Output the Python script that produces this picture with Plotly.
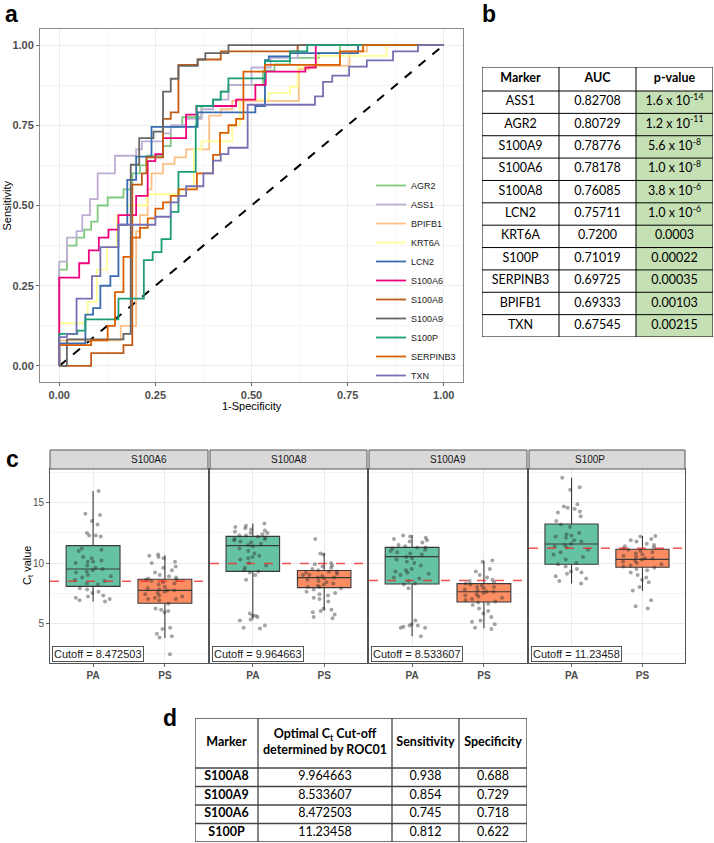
import plotly.graph_objects as go

# ---------------- DATA ----------------
markers = ["AGR2", "ASS1", "BPIFB1", "KRT6A", "LCN2", "S100A6", "S100A8", "S100A9", "S100P", "SERPINB3", "TXN"]
roc_colors = ["#7fc97f", "#beaed4", "#fdc086", "#ffff99", "#386cb0", "#f0027f", "#bf5b17", "#666666", "#1b9e77", "#d95f02", "#7570b3"]

agr2_fpr = [0, 0, 0.02, 0.045, 0.065, 0.083, 0.10, 0.126, 0.167, 0.19, 0.21, 0.227, 0.27, 0.29, 0.32, 0.37, 0.40, 0.42, 0.44, 0.53, 0.56, 0.60, 0.675, 0.73, 1.0]
agr2_tpr = [0, 0.30, 0.375, 0.40, 0.425, 0.45, 0.50, 0.525, 0.55, 0.60, 0.625, 0.655, 0.685, 0.745, 0.775, 0.81, 0.83, 0.855, 0.875, 0.92, 0.94, 0.96, 0.975, 1.0, 1.0]
ass1_fpr = [0, 0, 0.02, 0.045, 0.06, 0.08, 0.10, 0.145, 0.20, 0.215, 0.27, 0.29, 0.33, 0.37, 0.40, 0.44, 0.50, 0.55, 0.62, 1.0]
ass1_tpr = [0, 0.325, 0.40, 0.42, 0.47, 0.52, 0.60, 0.655, 0.675, 0.70, 0.725, 0.75, 0.77, 0.80, 0.83, 0.875, 0.93, 0.96, 1.0, 1.0]
bpifb1_fpr = [0, 0, 0.16, 0.20, 0.21, 0.23, 0.24, 0.27, 0.30, 0.33, 0.39, 0.42, 0.45, 0.623, 0.65, 0.755, 0.80, 1.0]
bpifb1_tpr = [0, 0.08, 0.125, 0.42, 0.47, 0.55, 0.60, 0.63, 0.65, 0.675, 0.78, 0.80, 0.826, 0.925, 0.935, 0.98, 1.0, 1.0]
krt6a_fpr = [0, 0, 0.068, 0.074, 0.098, 0.124, 0.15, 0.176, 0.228, 0.314, 0.35, 0.37, 0.45, 0.47, 0.545, 0.60, 0.62, 0.67, 0.851, 1.0]
krt6a_tpr = [0, 0.133, 0.16, 0.20, 0.30, 0.37, 0.47, 0.50, 0.535, 0.55, 0.674, 0.70, 0.75, 0.83, 0.85, 0.87, 0.93, 0.966, 1.0, 1.0]
lcn2_fpr = [0, 0, 0.068, 0.088, 0.107, 0.133, 0.154, 0.177, 0.20, 0.24, 0.36, 0.51, 0.535, 0.545, 0.60, 0.777, 1.0]
lcn2_tpr = [0, 0.07, 0.16, 0.18, 0.25, 0.28, 0.44, 0.58, 0.652, 0.745, 0.79, 0.81, 0.953, 0.965, 0.975, 1.0, 1.0]
s100a6_fpr = [0, 0, 0.052, 0.077, 0.103, 0.128, 0.154, 0.20, 0.23, 0.25, 0.27, 0.33, 0.357, 0.46, 0.51, 0.537, 0.64, 0.667, 1.0]
s100a6_tpr = [0, 0.275, 0.32, 0.36, 0.40, 0.425, 0.47, 0.53, 0.638, 0.66, 0.71, 0.783, 0.81, 0.83, 0.876, 0.917, 0.93, 1.0, 1.0]
s100a8_fpr = [0, 0.083, 0.167, 0.19, 0.215, 0.227, 0.27, 0.29, 0.31, 0.36, 0.42, 0.62, 1.0]
s100a8_tpr = [0, 0.04, 0.065, 0.565, 0.60, 0.65, 0.77, 0.79, 0.938, 0.955, 0.98, 1.0, 1.0]
s100a9_fpr = [0, 0.02, 0.167, 0.186, 0.208, 0.245, 0.27, 0.29, 0.31, 0.36, 0.38, 0.44, 1.0]
s100a9_tpr = [0, 0.083, 0.10, 0.627, 0.71, 0.73, 0.855, 0.895, 0.935, 0.955, 0.975, 1.0, 1.0]
s100p_fpr = [0, 0, 0.047, 0.068, 0.154, 0.22, 0.243, 0.266, 0.29, 0.31, 0.355, 0.357, 0.40, 0.42, 0.44, 0.535, 0.60, 0.645, 1.0]
s100p_tpr = [0, 0.10, 0.11, 0.145, 0.21, 0.33, 0.355, 0.395, 0.48, 0.605, 0.75, 0.81, 0.83, 0.855, 0.896, 0.95, 0.98, 1.0, 1.0]
serpinb3_fpr = [0, 0, 0.083, 0.126, 0.145, 0.167, 0.19, 0.21, 0.23, 0.25, 0.27, 0.29, 0.31, 0.358, 0.40, 0.418, 0.44, 0.46, 0.479, 0.535, 0.73, 0.79, 1.0]
serpinb3_tpr = [0, 0.065, 0.08, 0.125, 0.23, 0.34, 0.40, 0.43, 0.46, 0.49, 0.51, 0.53, 0.55, 0.60, 0.658, 0.726, 0.75, 0.77, 0.917, 0.938, 0.98, 1.0, 1.0]
txn_fpr = [0, 0, 0.02, 0.045, 0.085, 0.107, 0.154, 0.25, 0.29, 0.31, 0.33, 0.375, 0.40, 0.42, 0.44, 0.49, 0.665, 0.686, 0.71, 0.754, 0.80, 0.868, 0.933, 1.0]
txn_tpr = [0, 0.09, 0.10, 0.21, 0.28, 0.37, 0.44, 0.465, 0.51, 0.53, 0.56, 0.60, 0.64, 0.66, 0.68, 0.814, 0.84, 0.885, 0.905, 0.933, 0.952, 0.98, 1.0, 1.0]

roc_fpr = [agr2_fpr, ass1_fpr, bpifb1_fpr, krt6a_fpr, lcn2_fpr, s100a6_fpr, s100a8_fpr, s100a9_fpr, s100p_fpr, serpinb3_fpr, txn_fpr]
roc_tpr = [agr2_tpr, ass1_tpr, bpifb1_tpr, krt6a_tpr, lcn2_tpr, s100a6_tpr, s100a8_tpr, s100a9_tpr, s100p_tpr, serpinb3_tpr, txn_tpr]

# table b
tb_header = ["<b>Marker</b>", "<b>AUC</b>", "<b>p-value</b>"]
tb_markers = ["ASS1", "AGR2", "S100A9", "S100A6", "S100A8", "LCN2", "KRT6A", "S100P", "SERPINB3", "BPIFB1", "TXN"]
tb_auc = ["0.82708", "0.80729", "0.78776", "0.78178", "0.76085", "0.75711", "0.7200", "0.71019", "0.69725", "0.69333", "0.67545"]
tb_p = ["1.6 x 10<sup>-14</sup>", "1.2 x 10<sup>-11</sup>", "5.6 x 10<sup>-8</sup>", "1.0 x 10<sup>-8</sup>",
        "3.8 x 10<sup>-6</sup>", "1.0 x 10<sup>-6</sup>", "0.0003", "0.00022", "0.00035", "0.00103", "0.00215"]

# panel c
facets = ["S100A6", "S100A8", "S100A9", "S100P"]
cutoffs = [8.472503, 9.964663, 8.533607, 11.23458]
groups = ["PA", "PS"]
box_q1 = [[8.05, 6.65], [9.3, 7.95], [8.25, 6.75], [9.89, 9.64]]
box_med = [[9.5, 7.72], [11.45, 8.78], [10.53, 7.6], [11.58, 10.3]]
box_q3 = [[11.45, 8.65], [12.22, 9.38], [11.3, 8.28], [13.25, 11.14]]
box_lo = [[6.8, 3.75], [5.3, 6.05], [3.9, 4.56], [8.3, 7.67]]
box_hi = [[16.0, 10.65], [13.3, 10.82], [12.33, 10.17], [17.1, 12.25]]

a6_pa = [16.0, 14.1, 14.0, 13.5, 13.2, 12.5, 12.3, 12.3, 12.2, 11.2, 11.1, 11.0, 10.5, 10.4, 10.2, 10.1, 10.1, 10.0, 9.8,
         9.6, 9.5, 9.4, 9.3, 9.2, 9.0, 8.9, 8.8, 8.6, 8.5, 8.3, 8.2, 7.9, 7.8, 7.6, 7.5, 7.3, 7.2, 7.1, 7.0, 6.9, 6.8]
a6_ps = [10.7, 10.6, 10.5, 10.4, 10.1, 10.0, 9.7, 9.6, 9.4, 9.2, 9.0, 8.9, 8.8, 8.7, 8.6, 8.6, 8.5, 8.4, 8.3, 8.2, 8.0,
         7.9, 7.8, 7.7, 7.7, 7.6, 7.5, 7.4, 7.3, 7.2, 7.1, 7.0, 7.0, 6.9, 6.6, 6.2, 6.1, 6.0, 5.9, 4.6, 4.5, 4.1, 3.9, 3.8, 2.4]
a8_pa = [13.3, 13.1, 13.0, 12.9, 12.8, 12.7, 12.6, 12.5, 12.5, 12.4, 12.3, 12.3, 12.2, 12.1, 12.0, 12.0, 11.9, 11.8, 11.7,
         11.6, 11.5, 11.4, 11.2, 11.0, 10.8, 10.6, 10.5, 10.4, 10.3, 10.0, 9.8, 9.6, 9.4, 9.3, 9.2, 9.0, 8.6,
         5.8, 5.6, 5.6, 5.5, 5.3, 5.2, 4.8, 4.6, 4.55]
a8_ps = [12.0, 10.8, 10.7, 10.0, 9.9, 9.8, 9.7, 9.6, 9.5, 9.4, 9.3, 9.3, 9.2, 9.1, 9.0, 9.0, 8.9, 8.8, 8.8, 8.7, 8.6, 8.5,
         8.4, 8.3, 8.2, 8.1, 8.0, 8.0, 7.9, 7.8, 7.6, 7.5, 7.4, 7.3, 7.1, 7.0, 6.8, 6.2, 6.1, 6.0, 5.9, 5.7, 5.5, 5.4]
a9_pa = [12.3, 12.2, 12.1, 12.0, 11.9, 11.8, 11.7, 11.5, 11.4, 11.3, 11.3, 11.2, 11.1, 11.0, 10.9, 10.8, 10.7, 10.5, 10.4,
         10.3, 10.1, 10.0, 9.8, 9.5, 9.4, 9.3, 9.2, 9.1, 9.0, 8.8, 8.7, 8.5, 8.3, 8.2, 7.9, 5.2, 4.9, 4.8, 4.8, 4.7, 4.6, 4.6, 3.9]
a9_ps = [10.2, 10.1, 9.5, 9.3, 9.0, 8.8, 8.6, 8.5, 8.4, 8.3, 8.2, 8.1, 8.0, 8.0, 7.9, 7.8, 7.7, 7.6, 7.6, 7.5, 7.4, 7.3,
         7.2, 7.1, 7.0, 6.9, 6.8, 6.7, 6.6, 6.5, 6.2, 6.0, 5.8, 5.5, 5.2, 5.1, 4.9, 4.6, 4.5]
p_pa = [17.1, 16.3, 16.1, 14.9, 14.7, 14.6, 14.5, 14.3, 14.2, 13.9, 13.5, 13.2, 13.0, 12.5, 12.4, 12.3, 12.2, 12.1, 11.9,
        11.8, 11.6, 11.5, 11.4, 11.3, 11.1, 10.9, 10.7, 10.5, 10.3, 10.0, 9.9, 9.7, 9.5, 9.3, 9.2, 9.1, 8.9, 8.7, 8.5, 8.3]
p_ps = [12.25, 12.2, 12.0, 11.9, 11.8, 11.6, 11.5, 11.4, 11.3, 11.2, 11.1, 11.0, 10.9, 10.8, 10.7, 10.6, 10.5, 10.4, 10.4,
        10.3, 10.2, 10.1, 10.0, 9.9, 9.8, 9.7, 9.6, 9.5, 9.4, 9.2, 9.0, 8.8, 8.6, 8.4, 8.0, 7.7, 6.9, 6.4, 6.2]
points = [[a6_pa, a6_ps], [a8_pa, a8_ps], [a9_pa, a9_ps], [p_pa, p_ps]]

# table d
td_header = ["<b>Marker</b>", "<b>Optimal C<sub>t</sub> Cut-off<br>determined by ROC01</b>", "<b>Sensitivity</b>", "<b>Specificity</b>"]
td_markers = ["S100A8", "S100A9", "S100A6", "S100P"]
td_cut = ["9.964663", "8.533607", "8.472503", "11.23458"]
td_sens = ["0.938", "0.854", "0.745", "0.812"]
td_spec = ["0.688", "0.729", "0.718", "0.622"]

# ---------------- LAYOUT HELPERS ----------------
W, H = 714, 843
def fx(p): return p / W
def fy(p): return 1 - p / H

FONT = "Liberation Sans, Arial, sans-serif"
TFONT = "Lato"

fig = go.Figure()

# ---- panel a: ROC ----
fig.add_trace(go.Scatter(x=[0, 1], y=[0, 1], mode="lines", line=dict(color="black", width=2, dash="dash"),
                         showlegend=False, hoverinfo="skip", xaxis="x", yaxis="y"))
for name, col, xs, ys in zip(markers, roc_colors, roc_fpr, roc_tpr):
    fig.add_trace(go.Scatter(x=xs, y=ys, mode="lines", name=name, line=dict(color=col, width=1.8, shape="hv"),
                             xaxis="x", yaxis="y"))

roc_tick = [0, 0.25, 0.5, 0.75, 1.0]
common_roc = dict(range=[-0.05, 1.05], tickvals=roc_tick, ticktext=["%.2f" % v for v in roc_tick],
                  showgrid=True, gridcolor="#ebebeb", gridwidth=1, zeroline=False,
                  showline=True, mirror=True, linecolor="#8a8a8a", linewidth=1,
                  ticks="outside", ticklen=3, tickcolor="#666",
                  tickfont=dict(family=FONT, size=11, color="#4d4d4d", weight="bold"),
                  minor=dict(tick0=0.125, dtick=0.25, showgrid=True, gridcolor="#f5f5f5", gridwidth=0.7))
fig.update_layout(
    xaxis=dict(domain=[fx(40), fx(463)], anchor="y", **common_roc),
    yaxis=dict(domain=[fy(382), fy(29)], anchor="x", **common_roc),
)

# ---- panel c: facets ----
panel_x = [(50, 208), (210, 367), (369, 527), (529, 685)]
py_top, py_bot = 469, 663
box_fill = ["#66c2a5", "#fc8d62"]
for i in range(4):
    ax = str(i + 2)
    for g in range(2):
        fig.add_trace(go.Box(x=[groups[g]], q1=[box_q1[i][g]], median=[box_med[i][g]], q3=[box_q3[i][g]],
                             lowerfence=[box_lo[i][g]], upperfence=[box_hi[i][g]],
                             fillcolor=box_fill[g], line=dict(color="#3a3a3a", width=1.1),
                             whiskerwidth=0, width=0.75, boxpoints=False, showlegend=False,
                             xaxis="x" + ax, yaxis="y" + ax))
    for g in range(2):
        vals = points[i][g]
        fig.add_trace(go.Box(x=[groups[g]] * len(vals), y=vals, boxpoints="all", jitter=0.85, pointpos=0,
                             fillcolor="rgba(0,0,0,0)", line=dict(color="rgba(0,0,0,0)", width=0),
                             marker=dict(color="rgba(40,40,40,0.42)", size=4), width=0.75,
                             showlegend=False, hoveron="points", xaxis="x" + ax, yaxis="y" + ax))
    x0, x1 = panel_x[i]
    fig.layout["xaxis" + ax] = dict(domain=[fx(x0), fx(x1)], anchor="y" + ax, type="category",
                                    categoryorder="array", categoryarray=groups, range=[-0.6, 1.6],
                                    showgrid=True, gridcolor="#ebebeb", zeroline=False,
                                    showline=True, mirror=True, linecolor="#555", linewidth=1,
                                    ticks="outside", ticklen=3, tickcolor="#666",
                                    tickfont=dict(family=FONT, size=10, color="#4d4d4d", weight="bold"))
    fig.layout["yaxis" + ax] = dict(domain=[fy(py_bot), fy(py_top)], anchor="x" + ax,
                                    range=[1.67, 17.83], tickvals=[5, 10, 15], showticklabels=(i == 0),
                                    ticks="outside" if i == 0 else "", ticklen=3, tickcolor="#666",
                                    showgrid=True, gridcolor="#ebebeb", zeroline=False,
                                    showline=True, mirror=True, linecolor="#555", linewidth=1,
                                    tickfont=dict(family=FONT, size=10, color="#4d4d4d"),
                                    minor=dict(tick0=2.5, dtick=5, showgrid=True, gridcolor="#f5f5f5", gridwidth=0.7))
    fig.add_shape(type="line", xref="x" + ax + " domain", x0=0, x1=1, yref="y" + ax,
                  y0=cutoffs[i], y1=cutoffs[i], line=dict(color="rgba(240,40,40,0.8)", width=1.5, dash="dash"))
    fig.add_shape(type="rect", xref="paper", yref="paper", x0=fx(x0), x1=fx(x1), y0=fy(469), y1=fy(450),
                  fillcolor="#d9d9d9", line=dict(color="#555", width=1))
    fig.add_annotation(xref="paper", yref="paper", x=(fx(x0) + fx(x1)) / 2, y=fy(459.5), text=facets[i],
                       showarrow=False, font=dict(family=FONT, size=10, color="#1a1a1a"))
    fig.add_annotation(xref="x" + ax + " domain", yref="y" + ax + " domain", x=0.012, y=0.005,
                       xanchor="left", yanchor="bottom", text="Cutoff = " + str(cutoffs[i]),
                       showarrow=False, font=dict(family=FONT, size=11, color="#1a1a1a"),
                       bgcolor="white", bordercolor="#555", borderwidth=1, borderpad=1)

# ---- tables drawn on their own axes ----
def draw_table(ax, px_box, col_w, row_h, columns, header, fills, line_col, line_w, fsize):
    xl, xr, yt, yb = px_box
    xe = [0]
    for w in col_w:
        xe.append(xe[-1] + w)
    ye = [0]
    for h in row_h:
        ye.append(ye[-1] + h)
    fig.layout["xaxis" + ax] = dict(domain=[fx(xl), fx(xr)], range=[0, xe[-1]], visible=False,
                                    anchor="y" + ax, fixedrange=True)
    fig.layout["yaxis" + ax] = dict(domain=[fy(yb), fy(yt)], range=[ye[-1], 0], visible=False,
                                    anchor="x" + ax, fixedrange=True)
    for c, fc in enumerate(fills):
        if fc:
            fig.add_shape(type="rect", xref="x" + ax, yref="y" + ax, x0=xe[c], x1=xe[c + 1], y0=ye[1], y1=ye[-1],
                          fillcolor=fc, line=dict(width=0), layer="below")
    for xv in xe:
        fig.add_shape(type="line", xref="x" + ax, yref="y" + ax, x0=xv, x1=xv, y0=0, y1=ye[-1],
                      line=dict(color=line_col, width=line_w))
    for yv in ye:
        fig.add_shape(type="line", xref="x" + ax, yref="y" + ax, x0=0, x1=xe[-1], y0=yv, y1=yv,
                      line=dict(color=line_col, width=line_w))
    xs, ys, ts = [], [], []
    for c in range(len(col_w)):
        xc = (xe[c] + xe[c + 1]) / 2
        xs.append(xc); ys.append(ye[1] / 2); ts.append(header[c])
        for r, t in enumerate(columns[c]):
            xs.append(xc); ys.append((ye[r + 1] + ye[r + 2]) / 2); ts.append(t)
    fig.add_trace(go.Scatter(x=xs, y=ys, text=ts, mode="text", textposition="middle center",
                             textfont=dict(family=TFONT, size=fsize, color="black"),
                             showlegend=False, hoverinfo="skip", xaxis="x" + ax, yaxis="y" + ax))

draw_table("6", (482, 713, 67, 337), [77, 77, 77], [24] + [22.36] * 11,
           [tb_markers, tb_auc, tb_p], tb_header, [None, None, "#c5e0b4"], "black", 1, 12.5)
draw_table("7", (195, 527, 718, 842), [63, 134, 67, 68], [50] + [18.5] * 4,
           [["<b>%s</b>" % m for m in td_markers], td_cut, td_sens, td_spec], td_header,
           [None, None, None, None], "#444", 1.3, 12.5)

# ---- text annotations ----
def txt(x, y, s, size, bold=False, angle=0, family=FONT, color="black"):
    fig.add_annotation(xref="paper", yref="paper", x=fx(x), y=fy(y), text=s, showarrow=False, textangle=angle,
                       xanchor="center", yanchor="middle",
                       font=dict(family=family, size=size, color=color, weight="bold" if bold else "normal"))

txt(251.5, 406, "1-Specificity", 11)
txt(7, 205.5, "Sensitivity", 11, angle=-90)
txt(28, 566, "C<sub>t</sub> value", 11, angle=-90)
txt(11, 14, "a", 23, bold=True)
txt(489, 14, "b", 23, bold=True)
txt(12, 459, "c", 23, bold=True)
txt(170, 718, "d", 23, bold=True)

fig.update_layout(
    width=W, height=H, margin=dict(l=0, r=0, t=0, b=0),
    paper_bgcolor="white", plot_bgcolor="white",
    showlegend=True,
    legend=dict(x=fx(371), y=fy(171), xanchor="left", yanchor="top", bgcolor="rgba(255,255,255,0)",
                font=dict(family=FONT, size=9, color="#1a1a1a"), itemwidth=30, tracegroupgap=0),
)

fig.write_html("out.html", config={"displayModeBar": False},
               post_script="document.body.style.margin='0px';")
